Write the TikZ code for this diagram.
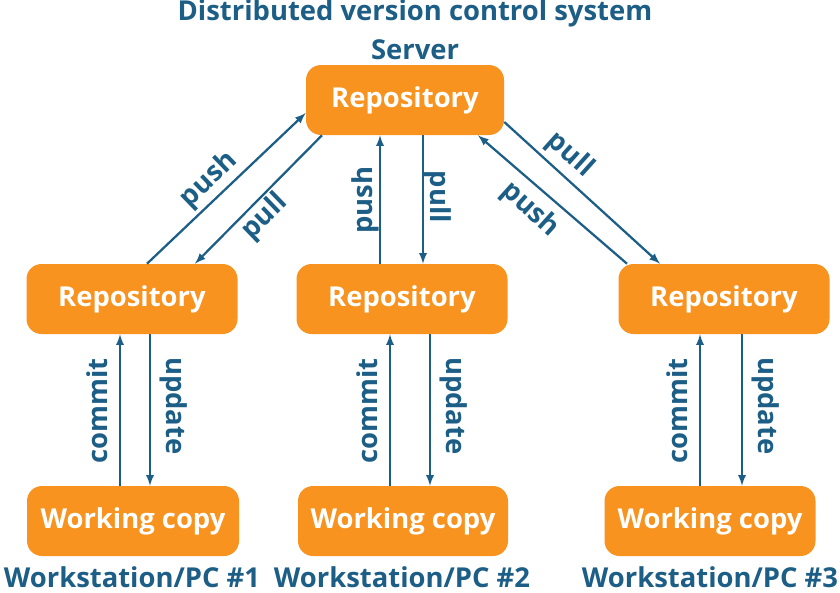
\documentclass[tikz,border=0pt]{standalone}
\usepackage{fontspec}
\setmainfont{Open Sans}
\usetikzlibrary{calc}
\definecolor{gitorange}{HTML}{F7931E}
\definecolor{gitblue}{HTML}{1C5E86}
\begin{document}
\begin{tikzpicture}[x=0.025cm,y=-0.025cm,
    repo/.style={draw=none,fill=gitorange,rounded corners=15*0.025cm,text=white,
        font=\fontsize{19.5}{22}\selectfont\bfseries,minimum height=70*0.025cm},
    arr/.style={draw=gitblue,line width=1.6pt,-latex},
    lbl/.style={text=gitblue,font=\fontsize{19.5}{22}\selectfont\bfseries},
    caption/.style={text=gitblue,font=\fontsize{19.5}{22}\selectfont\bfseries}]
\useasboundingbox (0,0) rectangle (840,592);
% titles
\node[caption] (title) at (415,13) {Distributed version control system};
\node[caption] (srv) at (415,50) {Server};
% repositories
\node[repo,minimum width=198*0.025cm] (s) at (405,100) {Repository};
\node[repo,minimum width=211*0.025cm] (r1) at (132,299) {Repository};
\node[repo,minimum width=211*0.025cm] (r2) at (402,299) {Repository};
\node[repo,minimum width=211*0.025cm] (r3) at (724,299) {Repository};
% working copies
\node[repo,minimum width=212*0.025cm] (w1) at (133,521) {Working copy};
\node[repo,minimum width=210*0.025cm] (w2) at (403,521) {Working copy};
\node[repo,minimum width=211*0.025cm] (w3) at (710,521) {Working copy};
\node[caption,anchor=base] (pc1) at (132,587) {Workstation/PC \#1};
\node[caption,anchor=base] (pc2) at (402,587) {Workstation/PC \#2};
\node[caption,anchor=base] (pc3) at (710,587) {Workstation/PC \#3};
% push / pull
\draw[arr] ($(r1.north)+(15,0)$) -- ($(s.west)+(0,13)$);
\draw[arr] ($(s.south)+(-83,0)$) -- ($(r1.north)+(63,0)$);
\draw[arr] ($(r2.north)+(-22,0)$) -- ($(s.south)+(-25,0)$);
\draw[arr] ($(s.south)+(18,0)$) -- ($(r2.north)+(21,0)$);
\draw[arr] ($(s.east)+(0,22)$) -- ($(r3.north)+(-64,0)$);
\draw[arr] ($(r3.north)+(-97,0)$) -- ($(s.south)+(73,0)$);
\node[lbl,rotate=44] (push1) at (209,180) {push};
\node[lbl,rotate=44] (pull1) at (265,217) {pull};
\node[lbl,rotate=90] (push2) at (365,200) {push};
\node[lbl,rotate=-90] (pull2) at (438,197) {pull};
\node[lbl,rotate=-42] (pull3) at (570,155) {pull};
\node[lbl,rotate=-42] (push3) at (530,210) {push};
% commit / update
\foreach \w/\r/\a/\b in {w1/r1/-13/17,w2/r2/-13/27,w3/r3/-10/32}{
  \coordinate (ca-\w) at ($(\w.north)+(\a,0)$);
  \coordinate (cb-\w) at ($(\w.north)+(\b,0)$);
  \draw[arr] (ca-\w) -- (ca-\w |- \r.south);
  \draw[arr] (cb-\w |- \r.south) -- (cb-\w);
  \node[lbl,rotate=90] (commit-\w) at ($(\w.north)+(\a-23,-75)$) {commit};
  \node[lbl,rotate=-90] (update-\w) at ($(\w.north)+(\b+24,-80)$) {update};
}
\end{tikzpicture}
\end{document}
